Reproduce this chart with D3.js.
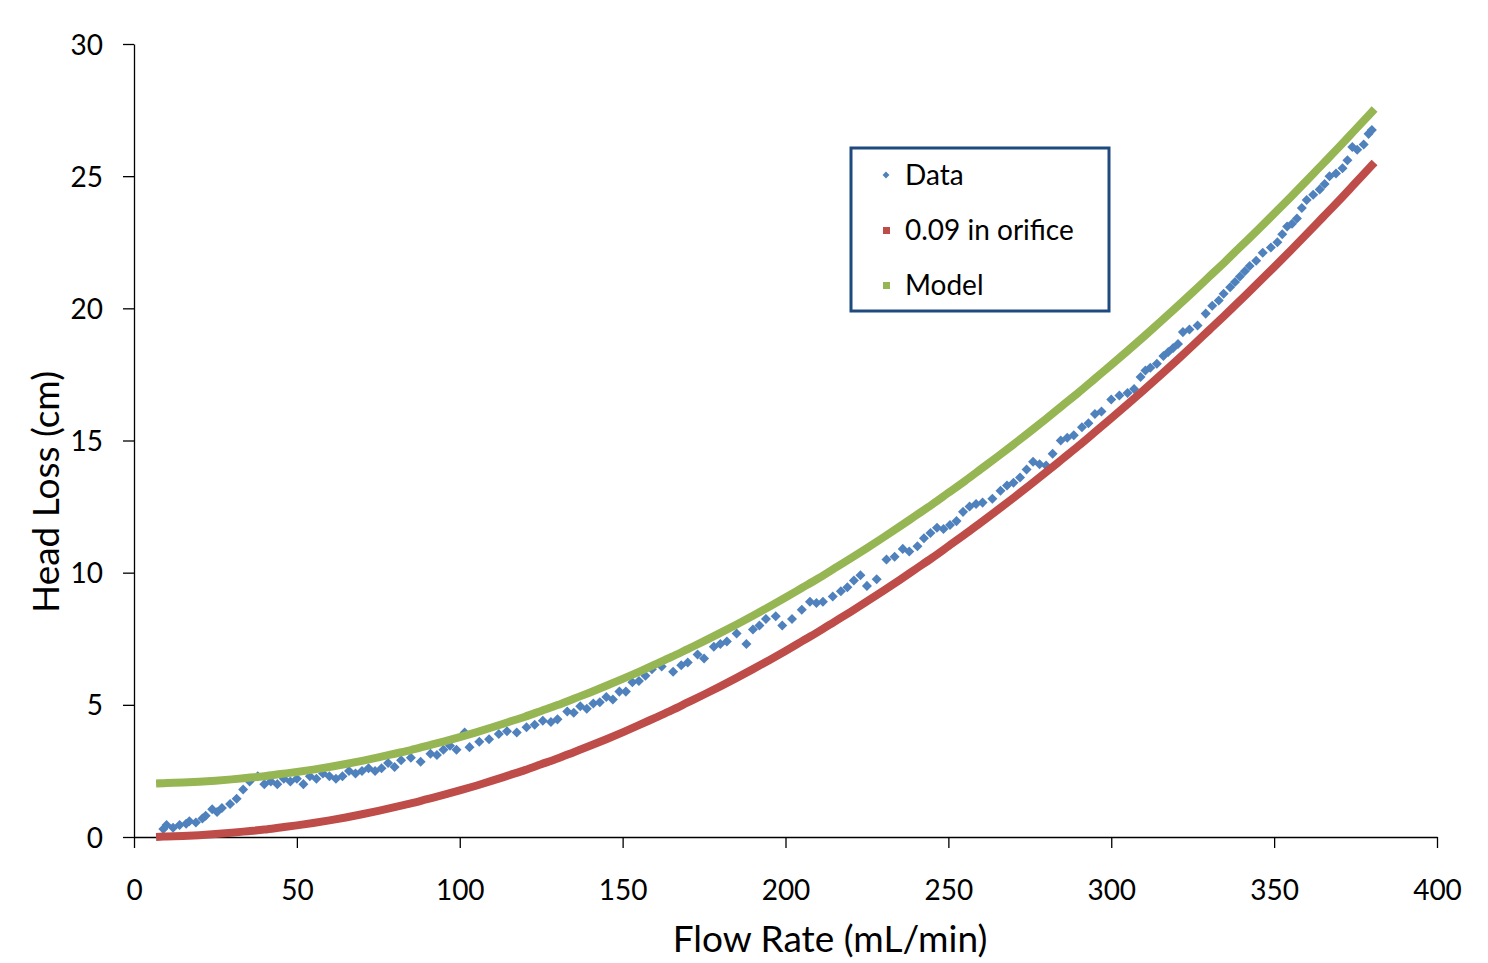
<!DOCTYPE html>
<html>
<head>
<meta charset="utf-8">
<script src="https://cdn.jsdelivr.net/npm/d3@7"></script>
<style>
  body { margin: 0; background: #fff; }
  text { font-family: Lato, "Open Sans", sans-serif; fill: #000; }
</style>
</head>
<body>
<div id="chart"></div>
<script>
// measured data points (flow in mL/min, head loss in cm)
const dataFlow = [9,10,12,14,16,17,19,21,22,24,25.5,27,29.5,31.5,33.5,35.5,38,40,42,44,46,48,50,52,54,56,58,60,62,64,66,68,70,72,74,76,78,
  80,82,85,88,91,93,95,97,99,101.5,103,106,109,112,114.5,117.5,120.5,123,125.5,128,130,133,135,137,139,141,143,145,147,149,151,153,155,
  157,159,162,165.5,168,170,173,175,178,180,182,185,188,190,192,194,197,199,202,205,207.5,209.5,211.5,214.5,217,219,221,223,225,228,
  231,233.5,236,238,240.5,242.5,244.5,246.5,248.5,250.5,252.5,254.5,256.5,258.5,260.5,263.5,266,268,270,272,274,276,278,280,282,284.5,286.5,288.5,291,293,295,297,300,
  302.5,305,307,309,310.5,312,314,316,317.5,319,320.5,322,324,326.5,329,331,333,334.5,336.5,338,339.5,341,342.5,344.5,346.5,349,351,352.5,354,355.5,357,358.5,360,362,364,365.5,367,369,371,372.5,374,375.5,377.5,379,380];
const dataHead = [0.3,0.45,0.35,0.45,0.5,0.6,0.55,0.7,0.8,1.05,0.95,1.1,1.25,1.45,1.8,2.1,2.3,2.0,2.1,2.0,2.2,2.1,2.2,2.0,2.3,2.2,2.4,2.3,2.2,2.3,2.5,2.4,2.5,2.6,2.5,2.6,2.8,
  2.65,2.9,3.0,2.85,3.15,3.1,3.3,3.45,3.3,3.95,3.4,3.6,3.7,3.9,4.0,3.95,4.15,4.25,4.4,4.35,4.45,4.75,4.7,4.95,4.85,5.05,5.1,5.3,5.2,5.5,5.5,5.85,5.9,
  6.1,6.35,6.45,6.25,6.5,6.6,6.9,6.75,7.2,7.3,7.4,7.7,7.3,7.85,8.0,8.25,8.35,8.0,8.25,8.6,8.9,8.85,8.9,9.1,9.3,9.45,9.7,9.9,9.5,9.75,
  10.5,10.6,10.9,10.8,11.0,11.3,11.5,11.7,11.65,11.8,11.95,12.3,12.5,12.6,12.65,12.8,13.1,13.3,13.4,13.6,13.9,14.2,14.1,14.05,14.5,15.0,15.1,15.2,15.5,15.65,16.0,16.1,16.55,
  16.7,16.8,16.95,17.4,17.65,17.75,17.9,18.2,18.35,18.5,18.65,19.1,19.2,19.35,19.8,20.1,20.3,20.55,20.8,21.0,21.2,21.4,21.6,21.8,22.1,22.3,22.5,22.8,23.1,23.2,23.4,23.8,24.1,24.3,24.5,24.7,25.0,25.1,25.3,25.6,26.1,26.0,26.2,26.6,26.75];

// orifice and model curves
const curveFlow = [8,10,15,20,25,30,35,40,45,50,55,60,65,70,75,80,85,90,95,100,105,110,115,120,125,130,135,140,145,150,155,160,165,170,175,180,185,190,195,200,
  205,210,215,220,225,230,235,240,245,250,255,260,265,270,275,280,285,290,295,300,305,310,315,320,325,330,335,340,345,350,355,360,365,370,375,380];
const orificeHead = [0.01,0.02,0.04,0.07,0.11,0.16,0.22,0.28,0.36,0.44,0.53,0.63,0.74,0.86,0.99,1.13,1.27,1.43,1.59,1.76,1.94,2.13,2.33,2.53,2.75,2.97,3.21,3.45,3.70,3.96,4.23,4.51,4.79,5.09,5.39,5.70,6.02,6.35,6.69,7.04,
  7.40,7.76,8.14,8.52,8.91,9.31,9.72,10.14,10.56,11.00,11.44,11.90,12.36,12.83,13.31,13.80,14.30,14.80,15.32,15.84,16.37,16.91,17.46,18.02,18.59,19.17,19.75,20.35,20.95,21.56,22.18,22.81,23.45,24.09,24.75,25.41];
const modelHead = [2.03,2.04,2.06,2.09,2.13,2.18,2.24,2.30,2.38,2.46,2.55,2.65,2.76,2.88,3.01,3.15,3.29,3.45,3.61,3.78,3.96,4.15,4.35,4.55,4.77,4.99,5.23,5.47,5.72,5.98,6.25,6.53,6.81,7.11,7.41,7.72,8.04,8.37,8.71,9.06,
  9.42,9.78,10.16,10.54,10.93,11.33,11.74,12.16,12.58,13.02,13.46,13.92,14.38,14.85,15.33,15.82,16.32,16.82,17.34,17.86,18.39,18.93,19.48,20.04,20.61,21.19,21.77,22.37,22.97,23.58,24.20,24.83,25.47,26.11,26.77,27.43];

const xTicks = [0,50,100,150,200,250,300,350,400];
const yTicks = [0,5,10,15,20,25,30];
const legendNames = ["Data", "0.09 in orifice", "Model"];
const colors = {data: "#4F81BD", orifice: "#BE4C49", model: "#96B654"};

const W = 1488, H = 963;
const svg = d3.select("#chart").append("svg")
    .attr("width", W).attr("height", H);

const x = d3.scaleLinear().domain([0, 400]).range([134, 1437]);
const y = d3.scaleLinear().domain([0, 30]).range([837, 44]);

// axes
const xAxis = svg.append("g")
    .attr("transform", `translate(0,${y(0)})`)
    .call(d3.axisBottom(x).tickValues(xTicks).tickSizeInner(11).tickSizeOuter(0).tickPadding(38));
const yAxis = svg.append("g")
    .attr("transform", `translate(${x(0)},0)`)
    .call(d3.axisLeft(y).tickValues(yTicks).tickSizeInner(11).tickSizeOuter(0).tickPadding(20));
[xAxis, yAxis].forEach(a => {
  a.selectAll("path, line").attr("stroke", "#000").attr("stroke-width", 1.3);
  a.selectAll("text").style("font-size", "28px").attr("fill", "#000")
    .style("font-family", "Lato, 'Open Sans', sans-serif");
});
xAxis.selectAll("text").attr("dy", "0.5em");
yAxis.selectAll("text").attr("dy", "0.36em");

// axis titles
svg.append("text")
    .attr("x", 830).attr("y", 952)
    .attr("text-anchor", "middle")
    .style("font-size", "37px")
    .text("Flow Rate (mL/min)");
svg.append("text")
    .attr("transform", "translate(59,492) rotate(-90)")
    .attr("text-anchor", "middle")
    .style("font-size", "37px")
    .text("Head Loss (cm)");

// data diamonds
const diamond = d3.symbol().type(d3.symbolDiamond2).size(64);
svg.append("g")
    .selectAll("path")
    .data(d3.zip(dataFlow, dataHead))
    .join("path")
    .attr("d", diamond)
    .attr("transform", d => `translate(${x(d[0])},${y(d[1])})`)
    .attr("fill", colors.data);

// orifice + model drawn as dense marker bands
const line = d3.line()
    .x(d => x(d[0]))
    .y(d => y(d[1]))
    .curve(d3.curveMonotoneX);

svg.append("path")
    .datum(d3.zip(curveFlow, orificeHead))
    .attr("d", line)
    .attr("fill", "none")
    .attr("stroke", colors.orifice)
    .attr("stroke-width", 8)
    .attr("stroke-linecap", "square");

svg.append("path")
    .datum(d3.zip(curveFlow, modelHead))
    .attr("d", line)
    .attr("fill", "none")
    .attr("stroke", colors.model)
    .attr("stroke-width", 8)
    .attr("stroke-linecap", "square");

// legend
const lg = svg.append("g");
lg.append("rect")
    .attr("x", 851).attr("y", 148)
    .attr("width", 258).attr("height", 163)
    .attr("fill", "#fff")
    .attr("stroke", "#1F4A7E")
    .attr("stroke-width", 3);

const rows = [175, 230, 285];
const legendColors = [colors.data, colors.orifice, colors.model];
legendNames.forEach((name, i) => {
  if (i === 0) {
    lg.append("path")
      .attr("d", d3.symbol().type(d3.symbolDiamond2).size(30))
      .attr("transform", `translate(886,${rows[i]})`)
      .attr("fill", legendColors[i]);
  } else {
    lg.append("rect")
      .attr("x", 883).attr("y", rows[i] - 3)
      .attr("width", 7).attr("height", 7)
      .attr("fill", legendColors[i]);
  }
  lg.append("text")
    .attr("x", 905).attr("y", rows[i] + 10)
    .style("font-size", "28px")
    .text(name);
});
</script>
</body>
</html>
